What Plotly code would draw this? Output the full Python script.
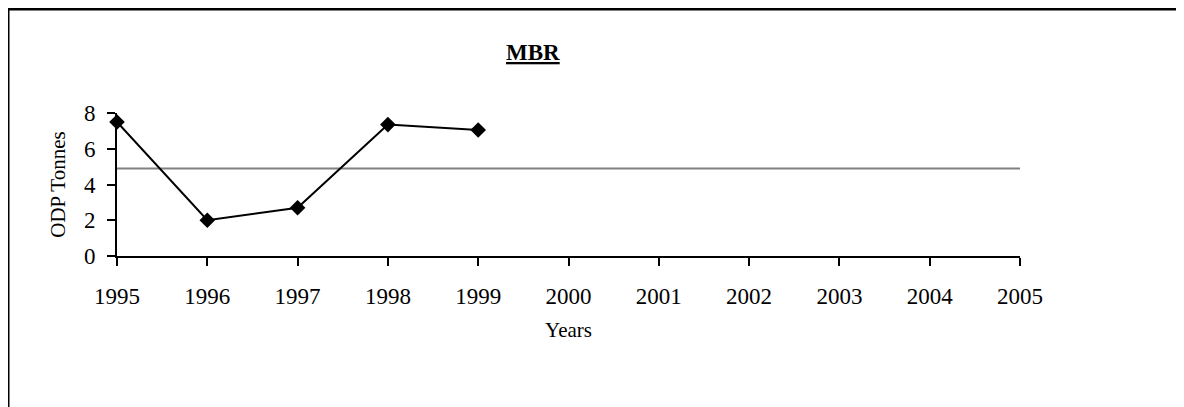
import plotly.graph_objects as go

# Data
years = [1995, 1996, 1997, 1998, 1999]
odp_tonnes = [7.5, 2.0, 2.7, 7.35, 7.05]
baseline_years = [1995, 2005]
baseline_value = 4.9
x_ticks = list(range(1995, 2006))
y_ticks = [0, 2, 4, 6, 8]

serif = "Times New Roman, Liberation Serif, serif"

fig = go.Figure()

# reference / baseline line
fig.add_trace(go.Scatter(
    x=baseline_years, y=[baseline_value] * len(baseline_years),
    mode="lines",
    line=dict(color="#808080", width=2),
    showlegend=False, hoverinfo="skip",
))

# consumption series
fig.add_trace(go.Scatter(
    x=years, y=odp_tonnes,
    mode="lines+markers",
    line=dict(color="black", width=2),
    marker=dict(symbol="diamond", size=12, color="black"),
    cliponaxis=False,
    showlegend=False,
))

# title
fig.add_annotation(
    xref="paper", yref="paper", x=0.4607, y=1.42,
    text="<b><u>MBR</u></b>", showarrow=False,
    font=dict(family=serif, size=23, color="black"),
    xanchor="center", yanchor="middle",
)

# frame lines (top and left only visible)
fig.add_shape(type="line", xref="paper", yref="paper",
              x0=-0.1218, x1=1.2, y0=1.727, y1=1.727,
              line=dict(color="black", width=3))
fig.add_shape(type="line", xref="paper", yref="paper",
              x0=-0.1207, x1=-0.1207, y0=1.727, y1=-1.1,
              line=dict(color="black", width=3))

fig.update_xaxes(
    range=[1995, 2005], tickvals=x_ticks,
    showgrid=False, zeroline=False,
    showline=True, linecolor="black", linewidth=2,
    ticks="outside", ticklen=8, tickwidth=2, tickcolor="black",
    ticklabelstandoff=10,
    tickfont=dict(family=serif, size=23, color="black"),
    title=dict(text="Years", standoff=15,
               font=dict(family=serif, size=21, color="black")),
)
fig.update_yaxes(
    range=[0, 8], tickvals=y_ticks,
    showgrid=False, zeroline=False,
    showline=True, linecolor="black", linewidth=2,
    ticks="outside", ticklen=8, tickwidth=2, tickcolor="black",
    ticklabelstandoff=7,
    tickfont=dict(family=serif, size=23, color="black"),
    title=dict(text="ODP Tonnes", standoff=13,
               font=dict(family=serif, size=21, color="black")),
)

fig.update_layout(
    width=1176, height=399,
    margin=dict(l=109, r=164, t=105, b=151),
    paper_bgcolor="white", plot_bgcolor="white",
    showlegend=False,
)

fig.write_html("out.html")
